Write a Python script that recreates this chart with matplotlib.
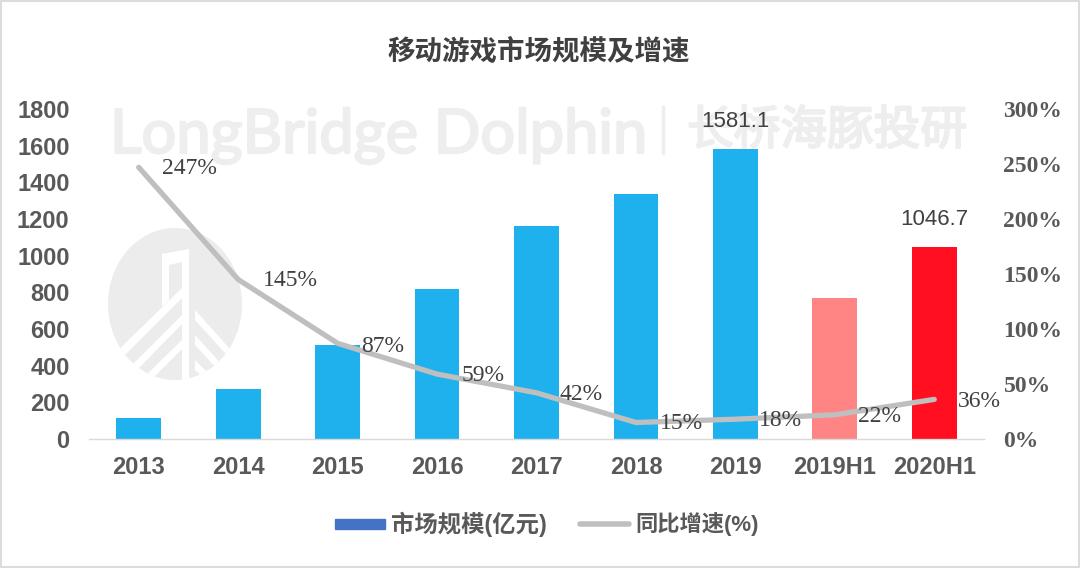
import matplotlib
matplotlib.use("Agg")
import matplotlib.pyplot as plt
import matplotlib.patheffects as pe
from matplotlib.patches import Ellipse, Rectangle, Polygon
from matplotlib.transforms import Affine2D

plt.rcParams['font.family'] = ['Noto Sans CJK SC', 'DejaVu Sans']

categories = ['2013', '2014', '2015', '2016', '2017', '2018', '2019', '2019H1', '2020H1']
market_size = [112, 274, 513, 819, 1162, 1339, 1581.1, 770, 1046.7]
growth = [247, 145, 87, 59, 42, 15, 18, 22, 36]
bar_colors = ['#1eb1ee'] * 7 + ['#ff8585', '#ff0f1f']
left_ticks = [0, 200, 400, 600, 800, 1000, 1200, 1400, 1600, 1800]
right_ticks = [0, 50, 100, 150, 200, 250, 300]
shown_values = {'2019': '1581.1', '2020H1': '1046.7'}

W, H = 1080, 568
fig = plt.figure(figsize=(W / 100, H / 100), dpi=100)
fig.patch.set_facecolor('white')
# lets the hand placed bits be given in picture pixels
px = Affine2D().scale(1, -1).translate(0, H)

# axes box in pixels
left, right, top, bottom = 89, 984, 109, 439
ax = fig.add_axes([left / W, 1 - bottom / H, (right - left) / W, (bottom - top) / H])
ax.patch.set_alpha(0)

x = list(range(len(categories)))
ax.bar(x, market_size, width=0.45, color=bar_colors, zorder=2)
ax.set_xlim(-0.5, len(categories) - 0.5)
ax.set_ylim(0, 1800)
ax.set_xticks(x)
ax.set_xticklabels(categories, fontsize=17, fontweight='bold', color='#595959',
                   family=['Liberation Sans'])
ax.set_yticks(left_ticks)
ax.set_yticklabels(left_ticks, fontsize=17, fontweight='bold', color='#595959',
                   family=['Liberation Sans'])
ax.tick_params(axis='both', length=0)
ax.tick_params(axis='x', pad=12.5)
ax.tick_params(axis='y', pad=14)
for s in ['top', 'left', 'right']:
    ax.spines[s].set_visible(False)
ax.spines['bottom'].set_color('#d9d9d9')
ax.spines['bottom'].set_linewidth(1)

for i, cat in enumerate(categories):
    if cat in shown_values:
        ax.annotate(shown_values[cat], (i, market_size[i]), xytext=(0, 12.5), textcoords='offset points',
                    ha='center', va='bottom', fontsize=16, color='#404040', family=['Liberation Sans'])

ax2 = ax.twinx()
ax2.patch.set_alpha(0)
ax2.plot(x, growth, color='#bfbfbf', lw=3.8, solid_capstyle='round', solid_joinstyle='round', zorder=3)
ax2.set_ylim(0, 300)
ax2.set_yticks(right_ticks)
ax2.set_yticklabels([f'{t}%' for t in right_ticks], fontsize=17, fontweight='bold', color='#595959',
                    family=['Liberation Serif'])
ax2.tick_params(axis='y', length=0, pad=14)
for s in ax2.spines.values():
    s.set_visible(False)

# label offsets from the line points, in pixels
label_offsets = [(51, -1), (52, -1), (45, -3), (46, -1), (45, -2), (46, -1), (45, -1), (45, -2), (45, -2)]
for i, g in enumerate(growth):
    ax2.annotate(f'{g}%', (i, g), xytext=label_offsets[i], textcoords='offset pixels',
                 ha='center', va='center', fontsize=17, color='#404040', family=['Liberation Serif'], zorder=4)

fig.text(539 / W, 1 - 52 / H, '移动游戏市场规模及增速', ha='center', va='center',
         fontsize=19.8, fontweight='bold', color='#404040')

# watermark, thickened a little with a stroke of the same colour
mark = '#eeeeee'
thick = [pe.withStroke(linewidth=1.6, foreground=mark)]
fig.text(110 / W, 1 - 153 / H, 'LongBridge Dolphin', ha='left', va='baseline', fontsize=44.2,
         color=mark, family=['Lato'], zorder=-1, path_effects=thick)
fig.text(687 / W, 1 - 131 / H, '长桥海豚投研', ha='left', va='center', fontsize=33.6,
         color=mark, zorder=-1, path_effects=thick)
fig.add_artist(Rectangle((662, 106), 2, 48, transform=px, color=mark, zorder=-1))

# logo, shapes
logo = Ellipse((175, 304), 134, 152, transform=px, facecolor='#ececec', lw=0, zorder=-1)
fig.add_artist(logo)
cuts = [
    [(162, 254), (189, 249), (189, 385), (182, 385), (182, 262), (169, 265), (169, 300), (162, 307)],
    [(182, 288), (182, 298), (115, 365), (110, 358)],
    [(182, 315), (182, 324), (132, 375), (127, 370)],
    [(182, 340), (182, 349), (145, 386), (140, 381)],
    [(195, 310), (239, 359), (235, 364), (195, 320)],
    [(195, 335), (225, 368), (221, 373), (195, 345)],
    [(195, 360), (215, 380), (211, 385), (195, 370)],
]
for pts in cuts:
    cut = Polygon(pts, closed=True, transform=px, color='white', lw=0, zorder=-0.9)
    fig.add_artist(cut)
    cut.set_clip_path(logo)

# legend drawn by hand to keep the blue swatch and the line apart
fig.add_artist(Rectangle((335, 519), 50, 10, transform=px, color='#4472c4'))
fig.text(391 / W, 1 - 524 / H, '市场规模(亿元)', ha='left', va='center', fontsize=16.8,
         fontweight='bold', color='#595959', family=['Liberation Sans', 'Noto Sans CJK SC'])
fig.add_artist(plt.Line2D([580, 629], [524, 524], color='#bfbfbf', lw=4,
                          solid_capstyle='round', transform=px))
fig.text(635 / W, 1 - 524 / H, '同比增速(%)', ha='left', va='center', fontsize=16,
         fontweight='bold', color='#595959', family=['Liberation Sans', 'Noto Sans CJK SC'])

# thin grey frame around the picture
fig.add_artist(Rectangle((1, 1), W - 2, H - 2, transform=px, fill=False, edgecolor='#dcdcdc', lw=1.5))

fig.savefig('out.png', dpi=100)
